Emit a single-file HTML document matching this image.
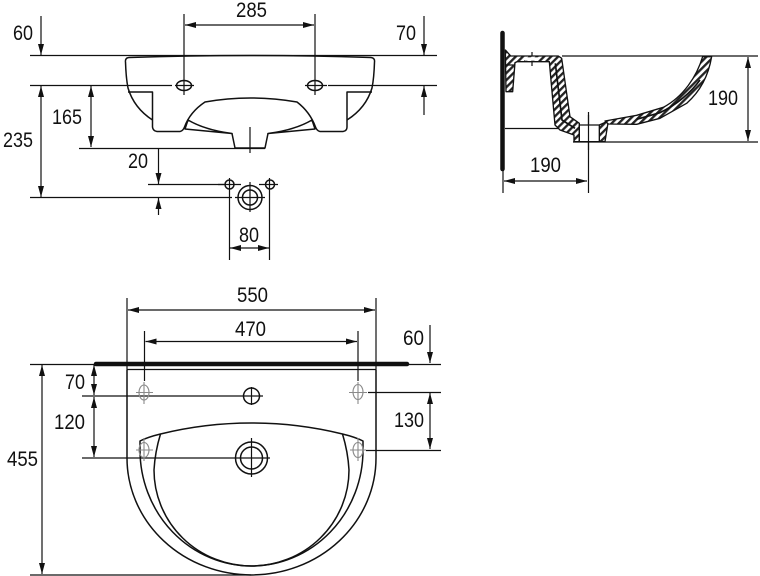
<!DOCTYPE html>
<html><head><meta charset="utf-8"><style>
html,body{margin:0;padding:0;background:#fff}
svg{display:block}
text{font-family:"Liberation Sans",sans-serif;font-size:21.5px;fill:#111}
.d{stroke:#111;stroke-width:1.2;fill:none}
.o{stroke:#111;stroke-width:1.5;fill:none;stroke-linejoin:round}
.g{stroke:#8a8a8a;stroke-width:1.1;fill:none}
</style></head><body>
<svg width="760" height="576" viewBox="0 0 760 576" xmlns="http://www.w3.org/2000/svg">
<defs>
<marker id="e" viewBox="0 0 11 6" refX="11" refY="3" markerWidth="11" markerHeight="6" markerUnits="userSpaceOnUse" orient="auto-start-reverse"><path d="M0,0L11,3L0,6Z" fill="#111"/></marker>
<pattern id="h" width="15" height="15" patternUnits="userSpaceOnUse" patternTransform="rotate(45)"><rect width="15" height="15" fill="#fff"/><rect width="7" height="15" fill="#222"/></pattern>
</defs>

<!-- TOP VIEW -->
<g class="d">
<path d="M30,55.500H437M30,85.500H172M328,85.500H437M79,148.500H265M148,184.500H224M30,197.500H232"/>
<path d="M184,14V95M315,14V95M250,127V153M229.500,190V260M269.500,190V260M175,85.500H194M305,85.500H327M218,184.500H241M259,184.500H278M235,197.500H265M250,182V212M229.500,178V191M269.500,178V191"/>
<path d="M41,16V55" marker-end="url(#e)"/>
<path d="M41,86V197" marker-start="url(#e)" marker-end="url(#e)"/>
<path d="M91,86V147" marker-start="url(#e)" marker-end="url(#e)"/>
<path d="M158.500,149V184" marker-end="url(#e)"/>
<path d="M158.500,215V198" marker-end="url(#e)"/>
<path d="M185,25H314" marker-start="url(#e)" marker-end="url(#e)"/>
<path d="M230,248H269" marker-start="url(#e)" marker-end="url(#e)"/>
<path d="M424,16V55" marker-end="url(#e)"/>
<path d="M424,115V86" marker-end="url(#e)"/>
</g>
<g class="o">
<path d="M125.500,62Q125,58 129,57.500Q190,55.500 250,55.500T371,57.500Q375,58 374.500,62Q374,78 372,88Q366,108 347,120M125.500,62Q126,78 128,88Q134,108 152.500,120"/>
<path d="M128,92H152.500V127Q153,131 157,131.500H180Q183,131 184.500,127Q190,112 205,102Q250,94 297,102Q310,112 315.500,127Q317,131 320,131.500H343Q347,131 347,127V92H372"/>
<path d="M188,120Q205,130 232,133.500L185,129Z M312,120Q295,130 268,133.500L315,129Z"/>
<path d="M232,133.500L235,148H265L268,133.500"/>
<ellipse cx="184" cy="85.500" rx="7.500" ry="5"/><ellipse cx="315" cy="85.500" rx="7.500" ry="5"/>
<circle cx="229.500" cy="184.500" r="4.500"/><circle cx="270" cy="184.500" r="4.500"/>
<circle cx="250" cy="197.500" r="12"/><circle cx="250" cy="197.500" r="7.500"/>
</g>
<text x="13" y="40" textLength="20" lengthAdjust="spacingAndGlyphs">60</text>
<text x="3" y="147" textLength="30" lengthAdjust="spacingAndGlyphs">235</text>
<text x="52" y="124" textLength="30" lengthAdjust="spacingAndGlyphs">165</text>
<text x="128" y="168" textLength="20" lengthAdjust="spacingAndGlyphs">20</text>
<text x="236" y="17" textLength="31" lengthAdjust="spacingAndGlyphs">285</text>
<text x="396" y="40" textLength="20" lengthAdjust="spacingAndGlyphs">70</text>
<text x="239" y="242" textLength="20" lengthAdjust="spacingAndGlyphs">80</text>

<!-- SIDE SECTION -->
<path d="M502.500,33V169" stroke="#111" stroke-width="4.500" stroke-linecap="round" fill="none"/>
<g class="d">
<path d="M562,56H758M573,142H758M505,128.500H558M588.500,115V193M503,170V193M532,52V66"/>
<path d="M748,57V141" marker-start="url(#e)" marker-end="url(#e)"/>
<path d="M504,181H587" marker-start="url(#e)" marker-end="url(#e)"/>
</g>
<g transform="translate(480,20) scale(.3333)" fill="url(#h)" stroke="#111" stroke-width="4" stroke-linejoin="round">
<path d="M76,90L92,108H235L245,115L270,290L298,310V365H282V345L240,330L225,315L208,125H112L105,128L98,215H78Z"/>
<path d="M358,365V315L385,303L375,365Z"/>
<path d="M375,303L470,286L550,262C610,230 650,170 668,110H695C685,170 660,215 620,250L540,295L470,313L385,312Z"/>
<path d="M135,112H175V122H135Z" fill="#fff" stroke="none"/>
<path d="M298,315H358V365H298Z" fill="#fff"/>
<path d="M226,130L246,300L285,325M470,298L540,278C590,255 635,215 660,180" fill="none" stroke-width="5"/>
</g>
<path class="d" d="M506,65H513M588.500,112V150"/>
<text x="708" y="105" textLength="30" lengthAdjust="spacingAndGlyphs">190</text>
<text x="530" y="172" textLength="31" lengthAdjust="spacingAndGlyphs">190</text>

<!-- BOTTOM VIEW -->
<path d="M96,364H407" stroke="#111" stroke-width="4.500" stroke-linecap="round" fill="none"/>
<g class="d">
<path d="M30,364.500H441M127,369.500H376M368,392.500H441M366,450.500H441M30,575H251M82,396H240M82,458H232"/>
<path d="M127,298V370M376,298V370M144.500,331V381M358,331V381M251.500,387V405M240,396H263M251.500,438V477M232,458H270"/>
<path d="M128,310H375" marker-start="url(#e)" marker-end="url(#e)"/>
<path d="M145.500,341.500H357" marker-start="url(#e)" marker-end="url(#e)"/>
<path d="M94,365V395" marker-start="url(#e)" marker-end="url(#e)"/>
<path d="M94,397V457" marker-start="url(#e)" marker-end="url(#e)"/>
<path d="M42,365V574" marker-start="url(#e)" marker-end="url(#e)"/>
<path d="M430,325V363" marker-end="url(#e)"/>
<path d="M430,393V449" marker-start="url(#e)" marker-end="url(#e)"/>
</g>
<g class="o">
<path d="M127,370V458A124.500,117 0 0 0 376,458V370"/>
<path d="M140,450V441Q148,437 160.500,434Q205,423 251.500,423Q298,423 342.500,434Q355,437 363,441V450A111.500,116 0 0 1 140,450Z"/>
<path d="M160.500,434Q155,452 154,470A97.500,96 0 0 0 349,470Q348,452 342.500,434"/>
<circle cx="251.500" cy="396" r="8"/>
<circle cx="251.500" cy="458" r="16"/><circle cx="251.500" cy="458" r="11"/>
</g>
<g class="g">
<ellipse cx="144" cy="392.500" rx="5" ry="7.500"/><ellipse cx="358" cy="392" rx="5" ry="7.500"/>
<ellipse cx="144" cy="450" rx="5" ry="7.500"/><ellipse cx="358" cy="450" rx="5" ry="7.500"/>
<path d="M136,392.500H153M144,382V404M349,392.500H367M358,382V404M136,450H153M144,438V461M350,450H366M358,438V461"/>
</g>
<text x="237" y="302" textLength="31" lengthAdjust="spacingAndGlyphs">550</text>
<text x="235" y="336" textLength="31" lengthAdjust="spacingAndGlyphs">470</text>
<text x="65" y="389" textLength="20" lengthAdjust="spacingAndGlyphs">70</text>
<text x="54" y="429" textLength="31" lengthAdjust="spacingAndGlyphs">120</text>
<text x="7" y="466" textLength="31" lengthAdjust="spacingAndGlyphs">455</text>
<text x="403" y="345" textLength="21" lengthAdjust="spacingAndGlyphs">60</text>
<text x="394" y="427" textLength="30" lengthAdjust="spacingAndGlyphs">130</text>
</svg>
</body></html>
